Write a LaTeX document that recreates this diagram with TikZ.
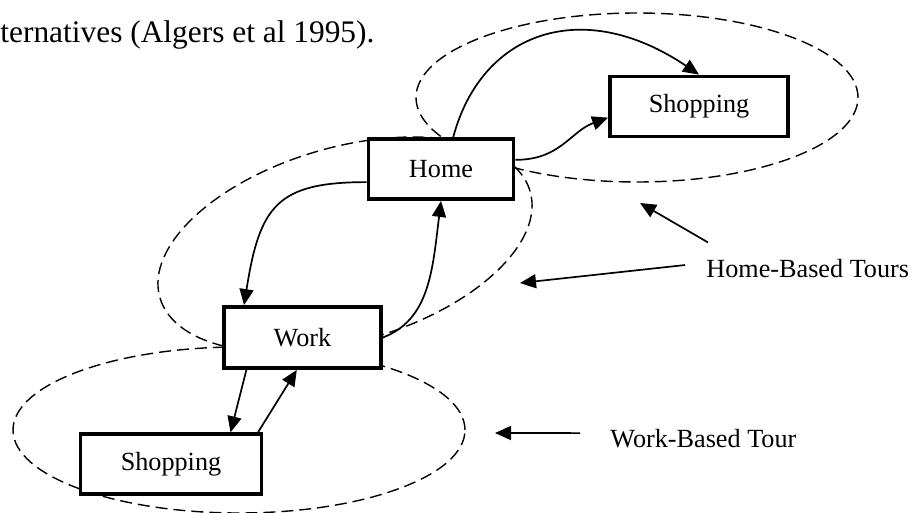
\documentclass[tikz,border=0pt]{standalone}
\usepackage{fontspec}
\setmainfont{Liberation Serif}
\usetikzlibrary{arrows.meta}

\begin{document}
\begin{tikzpicture}[x=0.5pt,y=0.5pt,
  box/.style={draw,line width=1.9pt,fill=white,inner sep=0pt,
    font=\fontsize{13.1}{15}\selectfont},
  tour/.style={dash pattern=on 6pt off 3pt,line width=0.7pt},
  link/.style={line width=0.85pt,-{Triangle[length=8pt,width=7pt]}},
  lbl/.style={inner sep=0pt,font=\fontsize{13.1}{15}\selectfont}]

\useasboundingbox (0,0) rectangle (920,-513);

% opening words of the caption line
\node[lbl,anchor=base west,font=\fontsize{15.7}{18}\selectfont] (intro) at (0,-43)
  {ternatives (Algers et al 1995).};

% tours drawn as dashed ellipses
\draw[tour] (637,-97.5) ellipse [x radius=110.5pt, y radius=42.25pt];
\draw[tour] (345,-244.5) ellipse [x radius=96.3pt, y radius=48.6pt, rotate=16];
\draw[tour] (239,-430) ellipse [x radius=113pt, y radius=41.5pt];

% activity locations
\node[box,minimum width=72.5pt,minimum height=30pt] (home) at (441,-169) {Home};
\node[box,minimum width=89pt,minimum height=30pt] (shopA) at (699,-106.5) {Shopping};
\node[box,minimum width=78.5pt,minimum height=30.5pt] (work) at (302.5,-337.5) {Work};
\node[box,minimum width=90.5pt,minimum height=29.75pt] (shopB) at (171,-464) {Shopping};

% trips
\draw[link] (home.69) .. controls +(75:110) and +(146:140) .. (shopA.north);
\draw[link] (home.7) .. controls +(0:45) and +(200:40) .. (shopA.187);
\draw[link] (home.190) .. controls +(180:90) and +(81:100) .. (work.151);
\draw[link] (work.east) .. controls +(21:50) and +(263:70) .. (home.south);
\draw[link] (work.210) -- (shopB.28);
\draw[link] (shopB.20.5) -- (work.260);

% tour labels
\node[lbl,anchor=base west] (hbt) at (706,-278) {Home-Based Tours};
\node[lbl,anchor=base west] (wbt) at (610,-447) {Work-Based Tour};

\coordinate (ringMid) at (520,-283);
\coordinate (ringTop) at (640,-203);
\coordinate (ringLow) at (495,-433);

\draw[link] ([shift={(-10.5pt,2pt)}]hbt.west) -- (ringMid);
\draw[link] ([shift={(1pt,8.5pt)}]hbt.north west) -- (ringTop);
\draw[link] ([shift={(-15pt,2.5pt)}]wbt.west) -- (ringLow);

\end{tikzpicture}
\end{document}
